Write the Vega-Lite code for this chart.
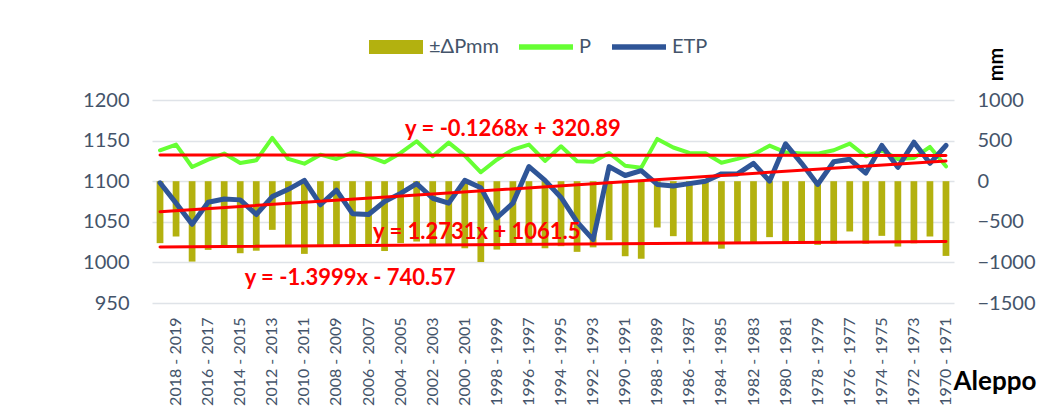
{
  "$schema": "https://vega.github.io/schema/vega-lite/v6.json",
  "width": 802,
  "height": 203,
  "autosize": {"type": "none"},
  "padding": {"left": 152, "top": 100, "right": 105, "bottom": 112},
  "background": "#ffffff",
  "config": {"view": {"stroke": null}, "font": "Lato"},
  "datasets": {
    "rows": [
      {"season": "2019 - 2020", "P": 381, "ETP": 1098, "dP": -763},
      {"season": "2018 - 2019", "P": 451, "ETP": 1073, "dP": -681},
      {"season": "2017 - 2018", "P": 175, "ETP": 1047, "dP": -990},
      {"season": "2016 - 2017", "P": 265, "ETP": 1074, "dP": -846},
      {"season": "2015 - 2016", "P": 340, "ETP": 1078, "dP": -805},
      {"season": "2014 - 2015", "P": 224, "ETP": 1077, "dP": -887},
      {"season": "2013 - 2014", "P": 257, "ETP": 1059, "dP": -856},
      {"season": "2012 - 2013", "P": 533, "ETP": 1081, "dP": -599},
      {"season": "2011 - 2012", "P": 274, "ETP": 1090, "dP": -784},
      {"season": "2010 - 2011", "P": 216, "ETP": 1101, "dP": -895},
      {"season": "2009 - 2010", "P": 327, "ETP": 1071, "dP": -784},
      {"season": "2008 - 2009", "P": 274, "ETP": 1089, "dP": -795},
      {"season": "2007 - 2008", "P": 356, "ETP": 1060, "dP": -784},
      {"season": "2006 - 2007", "P": 307, "ETP": 1059, "dP": -790},
      {"season": "2005 - 2006", "P": 233, "ETP": 1075, "dP": -860},
      {"season": "2004 - 2005", "P": 348, "ETP": 1085, "dP": -763},
      {"season": "2003 - 2004", "P": 492, "ETP": 1097, "dP": -743},
      {"season": "2002 - 2003", "P": 307, "ETP": 1079, "dP": -784},
      {"season": "2001 - 2002", "P": 475, "ETP": 1073, "dP": -790},
      {"season": "2000 - 2001", "P": 315, "ETP": 1101, "dP": -826},
      {"season": "1999 - 2000", "P": 110, "ETP": 1092, "dP": -995},
      {"season": "1998 - 1999", "P": 265, "ETP": 1055, "dP": -842},
      {"season": "1997 - 1998", "P": 389, "ETP": 1073, "dP": -780},
      {"season": "1996 - 1997", "P": 451, "ETP": 1118, "dP": -760},
      {"season": "1995 - 1996", "P": 250, "ETP": 1101, "dP": -826},
      {"season": "1994 - 1995", "P": 430, "ETP": 1080, "dP": -800},
      {"season": "1993 - 1994", "P": 245, "ETP": 1050, "dP": -870},
      {"season": "1992 - 1993", "P": 240, "ETP": 1028, "dP": -815},
      {"season": "1991 - 1992", "P": 348, "ETP": 1118, "dP": -726},
      {"season": "1990 - 1991", "P": 190, "ETP": 1107, "dP": -924},
      {"season": "1989 - 1990", "P": 165, "ETP": 1113, "dP": -955},
      {"season": "1988 - 1989", "P": 521, "ETP": 1096, "dP": -570},
      {"season": "1987 - 1988", "P": 415, "ETP": 1094, "dP": -677},
      {"season": "1986 - 1987", "P": 348, "ETP": 1097, "dP": -759},
      {"season": "1985 - 1986", "P": 345, "ETP": 1100, "dP": -753},
      {"season": "1984 - 1985", "P": 228, "ETP": 1109, "dP": -831},
      {"season": "1983 - 1984", "P": 275, "ETP": 1109, "dP": -763},
      {"season": "1982 - 1983", "P": 330, "ETP": 1122, "dP": -770},
      {"season": "1981 - 1982", "P": 438, "ETP": 1100, "dP": -689},
      {"season": "1980 - 1981", "P": 356, "ETP": 1146, "dP": -763},
      {"season": "1979 - 1980", "P": 340, "ETP": 1122, "dP": -770},
      {"season": "1978 - 1979", "P": 340, "ETP": 1096, "dP": -784},
      {"season": "1977 - 1978", "P": 381, "ETP": 1124, "dP": -770},
      {"season": "1976 - 1977", "P": 463, "ETP": 1127, "dP": -619},
      {"season": "1975 - 1976", "P": 307, "ETP": 1110, "dP": -770},
      {"season": "1974 - 1975", "P": 381, "ETP": 1144, "dP": -673},
      {"season": "1973 - 1974", "P": 274, "ETP": 1117, "dP": -805},
      {"season": "1972 - 1973", "P": 286, "ETP": 1148, "dP": -765},
      {"season": "1971 - 1972", "P": 422, "ETP": 1122, "dP": -681},
      {"season": "1970 - 1971", "P": 183, "ETP": 1144, "dP": -920}
    ],
    "etpTrend": [
      {"season": "2019 - 2020", "value": 1062.5},
      {"season": "1970 - 1971", "value": 1125}
    ],
    "mmTrends": [
      {"trend": "P", "season": "2019 - 2020", "value": 323},
      {"trend": "P", "season": "1970 - 1971", "value": 317},
      {"trend": "dP", "season": "2019 - 2020", "value": -810},
      {"trend": "dP", "season": "1970 - 1971", "value": -742}
    ],
    "equations": [
      {"text": "y = -0.1268x + 320.89", "season": "2004 - 2005", "value": 560},
      {"text": "y = 1.2731x + 1061.5", "season": "2006 - 2007", "value": -708},
      {"text": "y = -1.3999x - 740.57", "season": "2014 - 2015", "value": -1275}
    ]
  },
  "data": {"name": "rows"},
  "encoding": {
    "x": {
      "field": "season",
      "type": "nominal",
      "sort": null,
      "scale": {
        "domain": ["2019 - 2020","2018 - 2019","2017 - 2018","2016 - 2017","2015 - 2016","2014 - 2015","2013 - 2014","2012 - 2013","2011 - 2012","2010 - 2011","2009 - 2010","2008 - 2009","2007 - 2008","2006 - 2007","2005 - 2006","2004 - 2005","2003 - 2004","2002 - 2003","2001 - 2002","2000 - 2001","1999 - 2000","1998 - 1999","1997 - 1998","1996 - 1997","1995 - 1996","1994 - 1995","1993 - 1994","1992 - 1993","1991 - 1992","1990 - 1991","1989 - 1990","1988 - 1989","1987 - 1988","1986 - 1987","1985 - 1986","1984 - 1985","1983 - 1984","1982 - 1983","1981 - 1982","1980 - 1981","1979 - 1980","1978 - 1979","1977 - 1978","1976 - 1977","1975 - 1976","1974 - 1975","1973 - 1974","1972 - 1973","1971 - 1972","1970 - 1971"],
        "paddingInner": 0,
        "paddingOuter": 0
      },
      "axis": {
        "labelAngle": -90,
        "labelExpr": "toNumber(substring(datum.value, 0, 4)) % 2 == 0 ? datum.value : ''",
        "labelOverlap": false,
        "domain": false,
        "ticks": false,
        "grid": false,
        "labelPadding": 14,
        "labelFont": "Lato",
        "labelFontSize": 16,
        "labelColor": "#44546a",
        "title": "Aleppo",
        "titleX": 801,
        "titleY": 86,
        "titleAngle": 0,
        "titleAlign": "left",
        "titleBaseline": "alphabetic",
        "titleFont": "Lato",
        "titleFontSize": 26,
        "titleFontWeight": "bold",
        "titleColor": "#000000"
      }
    }
  },
  "layer": [
    {
      "layer": [
        {
          "mark": {"type": "bar", "width": {"band": 0.42}},
          "encoding": {
            "y": {
              "field": "dP",
              "type": "quantitative",
              "scale": {"domain": [-1500, 1000], "nice": false, "zero": false},
              "axis": {
                "orient": "right",
                "values": [-1500, -1000, -500, 0, 500, 1000],
                "format": "d",
                "grid": false,
                "domain": false,
                "ticks": false,
                "labelPadding": 23,
                "labelFont": "Lato",
                "labelFontSize": 20,
                "labelColor": "#44546a",
                "title": "mm",
                "titleAngle": -90,
                "titleX": 42,
                "titleY": -36,
                "titleAlign": "center",
                "titleBaseline": "middle",
                "titleFont": "Lato",
                "titleFontSize": 20,
                "titleFontWeight": "bold",
                "titleColor": "#000000"
              }
            },
            "color": {
              "datum": "±ΔPmm",
              "type": "nominal",
              "scale": {"domain": ["±ΔPmm", "P", "ETP"], "range": ["#b3b10f", "#66ff33", "#2f5597"]},
              "legend": {
                "orient": "none",
                "legendX": 217,
                "legendY": -80,
                "direction": "horizontal",
                "title": null,
                "padding": 0,
                "symbolSize": 2916,
                "symbolStrokeWidth": 0,
                "labelFont": "Lato",
                "labelFontSize": 20,
                "labelColor": "#44546a",
                "labelOffset": 6,
                "columnPadding": 20,
                "encode": {
                  "symbols": {
                    "update": {
                      "shape": {"signal": "datum.value == '±ΔPmm' ? 'M-1,-0.26H1V0.26H-1Z' : 'M-1,-0.1H1V0.1H-1Z'"},
                      "fill": {"signal": "scale('color', datum.value)"},
                      "strokeWidth": {"value": 0}
                    }
                  }
                }
              }
            }
          }
        },
        {
          "mark": {"type": "line", "strokeWidth": 4, "strokeJoin": "round", "strokeCap": "round"},
          "encoding": {
            "y": {"field": "P", "type": "quantitative"},
            "color": {"datum": "P", "type": "nominal"}
          }
        }
      ]
    },
    {
      "layer": [
        {
          "mark": {"type": "line", "strokeWidth": 5, "strokeJoin": "round", "strokeCap": "round"},
          "encoding": {
            "y": {
              "field": "ETP",
              "type": "quantitative",
              "scale": {"domain": [950, 1200], "nice": false, "zero": false},
              "axis": {
                "orient": "left",
                "values": [950, 1000, 1050, 1100, 1150, 1200],
                "format": "d",
                "grid": true,
                "gridColor": "#dfe3e8",
                "gridWidth": 1.5,
                "domain": false,
                "ticks": false,
                "labelPadding": 23,
                "labelFont": "Lato",
                "labelFontSize": 20,
                "labelColor": "#44546a",
                "title": null
              }
            },
            "color": {"datum": "ETP", "type": "nominal"}
          }
        },
        {
          "data": {"name": "etpTrend"},
          "mark": {"type": "line", "color": "#ff0000", "strokeWidth": 3, "strokeCap": "round"},
          "encoding": {
            "y": {"field": "value", "type": "quantitative"}
          }
        }
      ]
    },
    {
      "layer": [
        {
          "data": {"name": "mmTrends"},
          "mark": {"type": "line", "color": "#ff0000", "strokeWidth": 3, "strokeCap": "round"},
          "encoding": {
            "y": {"field": "value", "type": "quantitative", "scale": {"domain": [-1500, 1000], "nice": false, "zero": false}, "axis": null},
            "detail": {"field": "trend"}
          }
        },
        {
          "data": {"name": "equations"},
          "mark": {"type": "text", "align": "left", "baseline": "alphabetic", "dx": 4.5, "font": "Lato", "fontSize": 22, "fontWeight": "bold", "color": "#ff0000"},
          "encoding": {
            "y": {"field": "value", "type": "quantitative"},
            "text": {"field": "text"}
          }
        }
      ]
    }
  ],
  "resolve": {"scale": {"y": "independent"}}
}
